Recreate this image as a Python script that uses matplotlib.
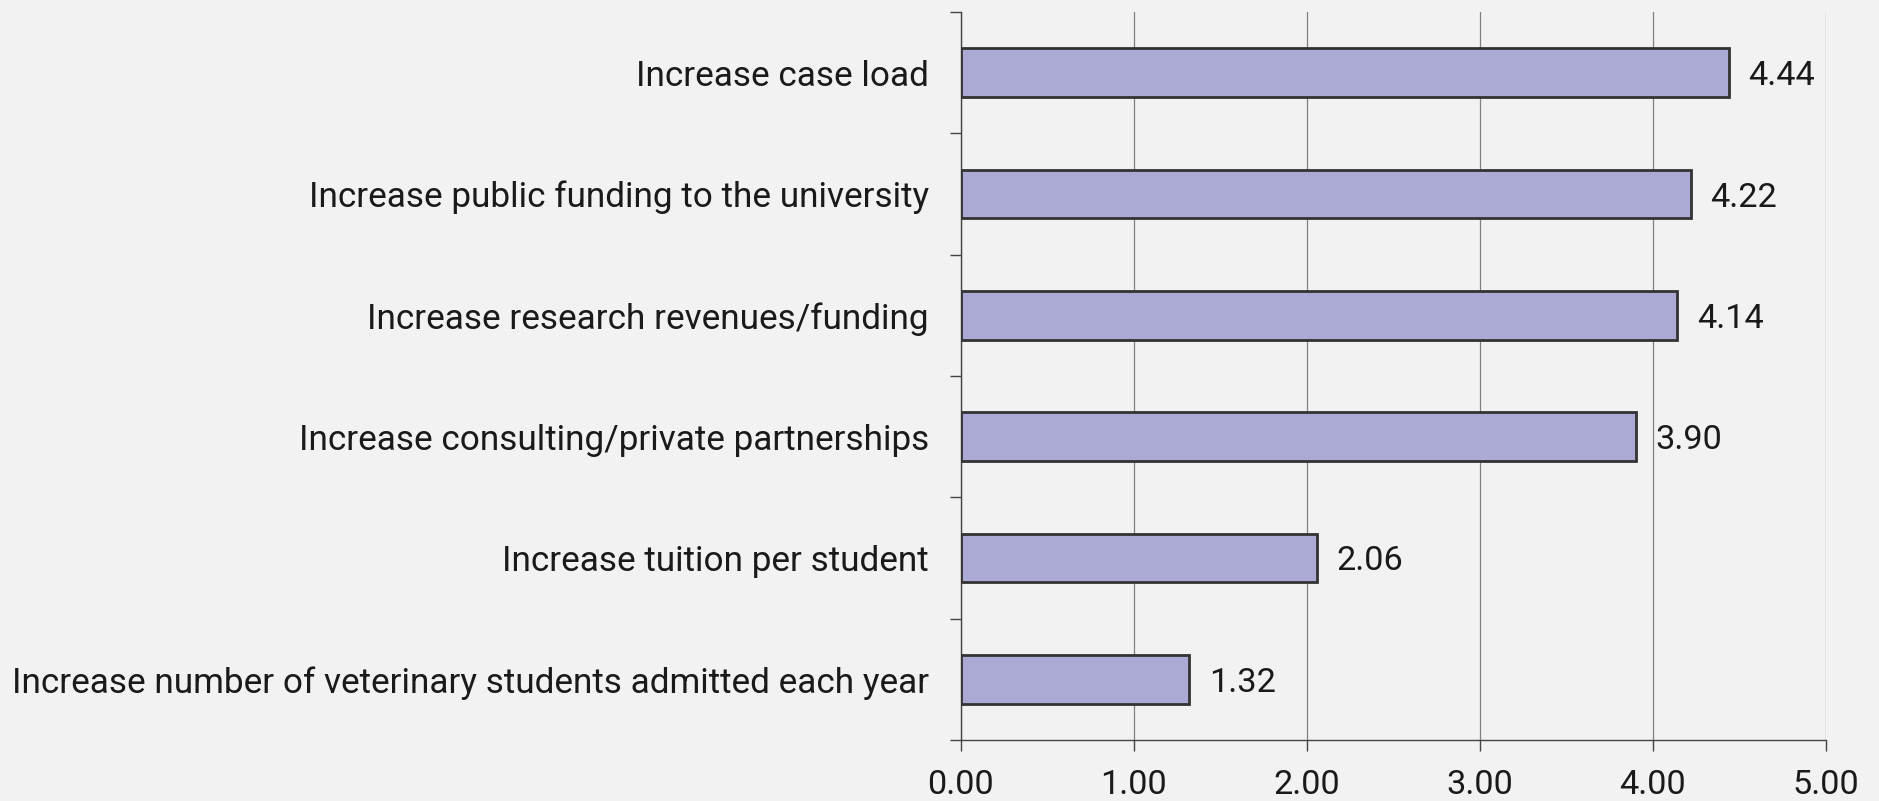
import numpy as np
import matplotlib
matplotlib.use('Agg')
import matplotlib.pyplot as plt

plt.rcParams['font.family'] = ['Roboto', 'DejaVu Sans']

categories = [
    'Increase case load',
    'Increase public funding to the university',
    'Increase research revenues/funding',
    'Increase consulting/private partnerships',
    'Increase tuition per student',
    'Increase number of veterinary students admitted each year',
]
values = [4.44, 4.22, 4.14, 3.90, 2.06, 1.32]
xticks = [0, 1, 2, 3, 4, 5]

bg = '#f2f2f2'
bar_color = '#aaaad4'
edge_color = '#333333'
axis_color = '#444444'
text_color = '#1a1a1a'


def main():
    fig = plt.figure(figsize=(18.79, 8.01), dpi=100, facecolor=bg)
    ax = fig.add_axes([0.5114, 0.0762, 0.4604, 0.9088])
    ax.set_facecolor(bg)

    y = np.arange(len(categories))
    bars = ax.barh(y, values, height=0.40, color=bar_color,
                   edgecolor=edge_color, linewidth=2.0, zorder=3)
    # value labels next to the bar ends
    for b, v in zip(bars, values):
        ax.annotate(f'{v:.2f}', (b.get_width(), b.get_y() + b.get_height() / 2),
                    xytext=(14, 0), textcoords='offset points',
                    ha='left', va='center_baseline', fontsize=24.7,
                    color=text_color)

    ax.set_ylim(len(categories) - 0.5, -0.5)
    ax.set_xlim(0, 5)
    ax.set_yticks(y)
    ax.set_yticklabels(categories, fontsize=25.25, color=text_color)
    ax.set_yticks(np.arange(-0.5, len(categories), 1.0), minor=True)
    ax.tick_params(axis='y', which='major', length=0, pad=23)
    ax.tick_params(axis='y', which='minor', length=8, width=1,
                   color=axis_color)

    ax.set_xticks(xticks)
    ax.set_xticklabels([f'{t:.2f}' for t in xticks], fontsize=24.7,
                       color=text_color)
    ax.tick_params(axis='x', which='major', length=8, width=1,
                   color=axis_color, pad=13)

    ax.grid(axis='x', color='#808080', linewidth=0.9, zorder=0)
    ax.set_axisbelow(True)

    for s in ['top', 'right']:
        ax.spines[s].set_visible(False)
    for s in ['left', 'bottom']:
        ax.spines[s].set_color(axis_color)
        ax.spines[s].set_linewidth(1.0)

    fig.savefig('out.png', dpi=100, facecolor=bg)


if __name__ == '__main__':
    main()
